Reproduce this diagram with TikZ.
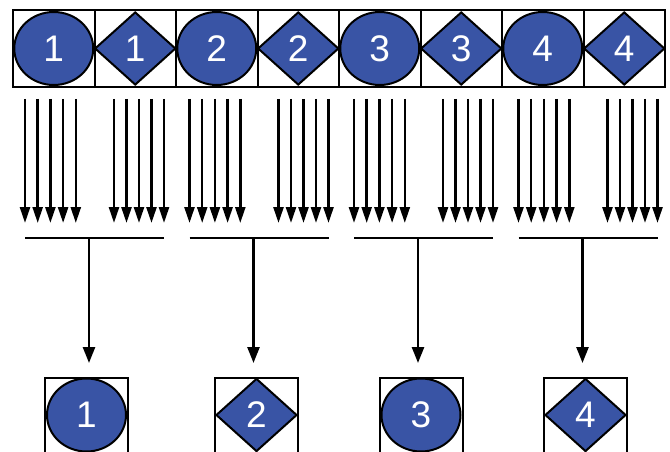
\documentclass[tikz,border=0pt]{standalone}
\usepackage{fontspec}
\setmainfont{Liberation Sans}
\usetikzlibrary{arrows.meta,shapes.geometric}
\definecolor{tokenblue}{RGB}{57,84,165}

\begin{document}
\begin{tikzpicture}[x=1pt,y=-1pt,
  cell/.style={draw=black,line width=2pt,fill=white,minimum width=81.5pt,
    minimum height=77pt,inner sep=0pt},
  slot/.style={draw=black,line width=2pt,fill=white,minimum width=83pt,
    minimum height=110pt,inner sep=0pt,anchor=north},
  token/.style={draw=black,line width=2pt,fill=tokenblue,inner sep=0pt,
    text=white,font=\fontsize{37}{37}\selectfont},
  disc/.style={token,ellipse,minimum width=79pt,minimum height=73pt},
  gem/.style={token,diamond,minimum width=81pt,minimum height=73pt},
  feed/.style={line width=2.5pt,-{Triangle[width=10pt,length=16pt]}},
  merge/.style={line width=2.5pt,-{Triangle[width=12pt,length=16pt]}},
  bar/.style={line width=2.5pt}]
\useasboundingbox (0,0) rectangle (670,452);
\clip (0,0) rectangle (670,452);

% top row: eight cells holding a disc or a gem each
\foreach \i/\k/\s in {0/1/disc,1/1/gem,2/2/disc,3/2/gem,4/3/disc,5/3/gem,6/4/disc,7/4/gem}{
  \pgfmathsetmacro{\cx}{53.75+81.5*\i}
  \node[cell] (cell\i) at (\cx,48.5) {};
  \node[\s] (tok\i) at (cell\i.center) {\k};
}

% four groups: two bundles of five arrows, a collecting bar and one output arrow
\foreach \g in {0,1,2,3}{
  \pgfmathsetmacro{\ox}{164.5*\g}
  \foreach \j in {0,...,4}{
    \coordinate (la\g\j) at (25+\ox+12.7*\j,99);
    \coordinate (lb\g\j) at (25+\ox+12.7*\j,223);
    \draw[feed] (la\g\j) -- (lb\g\j);
    \coordinate (ra\g\j) at (114+\ox+12.5*\j,99);
    \coordinate (rb\g\j) at (114+\ox+12.5*\j,223);
    \draw[feed] (ra\g\j) -- (rb\g\j);
  }
  \coordinate (barL\g) at (25+\ox,238);
  \coordinate (barR\g) at (164+\ox,238);
  \coordinate (barM\g) at (89+\ox,238);
  \coordinate (out\g) at (89+\ox,363);
  \draw[bar] (barL\g) -- (barR\g);
  \draw[merge] (barM\g) -- (out\g);
}

% bottom row: results
\node[slot] (slot0) at (86.5,377) {};
\node[slot] (slot1) at (256.5,377) {};
\node[slot] (slot2) at (421,377) {};
\node[slot] (slot3) at (585.5,377) {};
\node[disc] (res0) at (86.5,415) {1};
\node[gem]  (res1) at (256.5,415) {2};
\node[disc] (res2) at (421,415) {3};
\node[gem]  (res3) at (585.5,415) {4};
\end{tikzpicture}
\end{document}
